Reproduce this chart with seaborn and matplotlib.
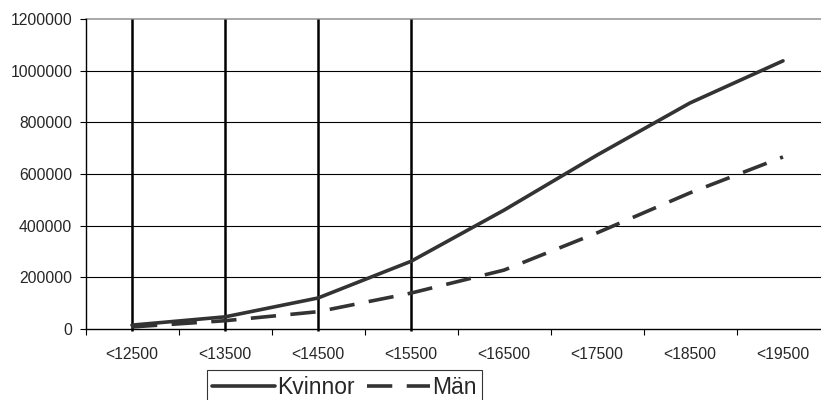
import matplotlib
matplotlib.use("Agg")
import matplotlib.pyplot as plt
import seaborn as sns
import pandas as pd
from matplotlib.lines import Line2D

categories = ["<12500", "<13500", "<14500", "<15500", "<16500", "<17500", "<18500", "<19500"]
kvinnor = [15000, 47000, 120000, 262000, 460000, 673000, 875000, 1038000]
man = [8000, 32000, 67000, 139000, 228000, 372000, 527000, 666000]
marked = categories[:4]
yticks = [0, 200000, 400000, 600000, 800000, 1000000, 1200000]

sns.set_style("white")
plt.rcParams["font.family"] = ["Liberation Sans", "DejaVu Sans"]

fig = plt.figure(figsize=(8.21, 4.0), dpi=100)
ax = fig.add_axes([85.5 / 821, 71 / 400, 744 / 821, 310 / 400])

df = pd.DataFrame({"cat": categories + categories,
                   "val": kvinnor + man,
                   "serie": ["Kvinnor"] * 8 + ["Män"] * 8})

col = "#333333"
sns.lineplot(data=df[df.serie == "Kvinnor"], x="cat", y="val", ax=ax, color=col,
             lw=2.6, sort=False, legend=False)
sns.lineplot(data=df[df.serie == "Män"], x="cat", y="val", ax=ax, color=col,
             lw=2.6, sort=False, legend=False, dashes=False)
ax.lines[1].set_dashes([7, 4])

ax.set_xlim(-0.5, 7.5)
ax.set_ylim(0, 1200000)
ax.set_yticks(yticks)
ax.set_yticklabels([str(v) for v in yticks], fontsize=11.3)
for v in yticks[1:-1]:
    ax.axhline(v, color="black", lw=0.8, zorder=0)
ax.axhline(1200000, color="#999999", lw=1.2, zorder=0, clip_on=False)

ax.vlines(marked, -8000, 1200000, color="black", lw=1.8, clip_on=False, zorder=1)

ax.set_xticks(range(len(categories)))
ax.set_xticklabels(categories, fontsize=11.3)
ax.set_xticks([i - 0.5 for i in range(len(categories) + 1)], minor=True)
ax.tick_params(axis="x", which="major", bottom=True, length=0, pad=13)
ax.tick_params(axis="x", which="minor", bottom=True, length=4, width=0.8,
               color="black", direction="out")
ax.tick_params(axis="y", left=True, length=4.5, width=0.8, color="black",
               direction="out", pad=5)
ax.set_xlabel("")
ax.set_ylabel("")

for s in ["top", "right"]:
    ax.spines[s].set_visible(False)
for s in ["left", "bottom"]:
    ax.spines[s].set_color("black")
    ax.spines[s].set_linewidth(1.0)

handles = [Line2D([0], [0], color=col, lw=2.6),
           Line2D([0], [0], color=col, lw=2.6, dashes=[7, 4])]
leg = fig.legend(handles, ["Kvinnor", "Män"], loc="upper left",
                 bbox_to_anchor=(206.5 / 821, 1 - 370 / 400), ncol=2,
                 fontsize=16.5, frameon=True, fancybox=False, handlelength=2.75,
                 borderpad=0.25, columnspacing=0.5, handletextpad=0.1,
                 borderaxespad=0)
leg.get_frame().set_edgecolor("black")
leg.get_frame().set_linewidth(0.8)

fig.savefig("out.png", dpi=100)
